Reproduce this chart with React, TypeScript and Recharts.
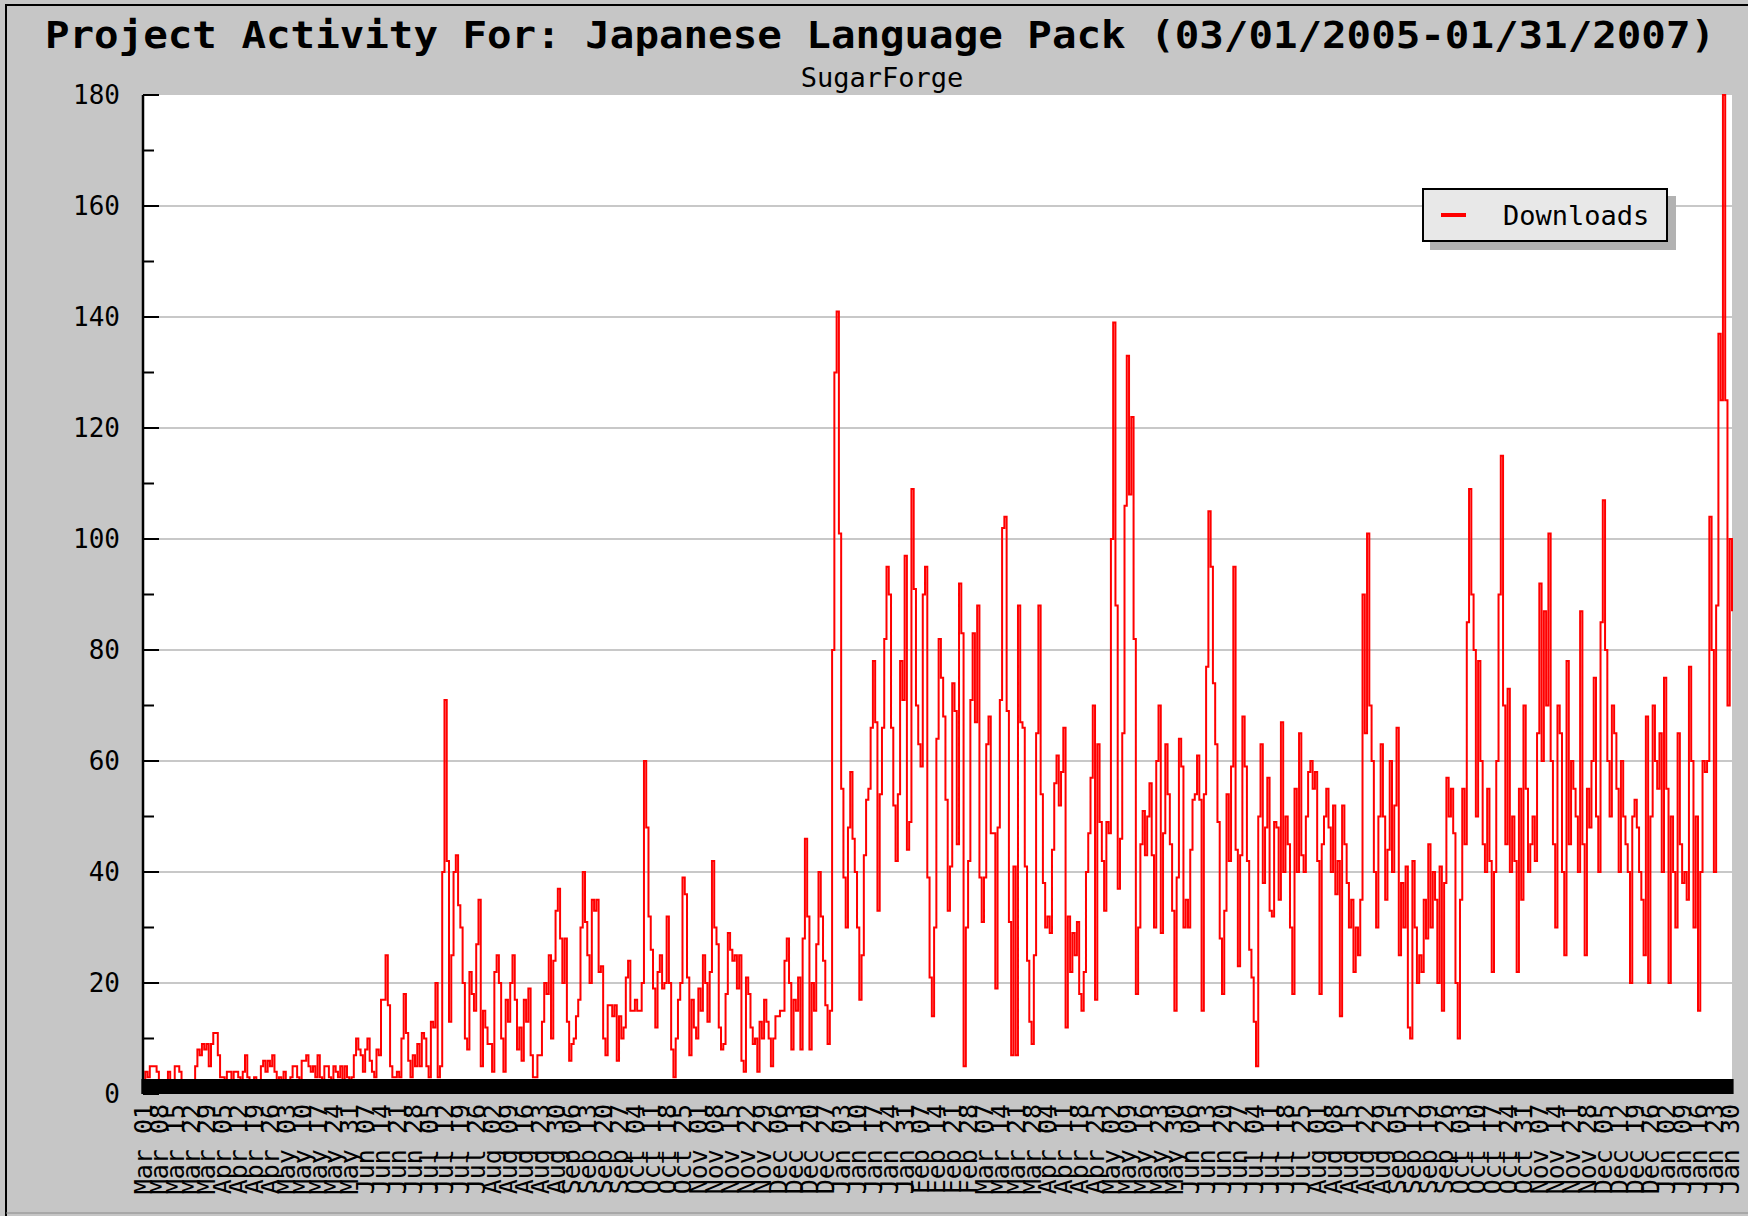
import React from 'react';
import { LineChart, Line, XAxis, YAxis, CartesianGrid, Legend } from 'recharts';

const TITLE = 'Project Activity For: Japanese Language Pack (03/01/2005-01/31/2007)';
const SUBTITLE = 'SugarForge';
const SERIES = 'Downloads';

// daily downloads, one array per month
const mar05 = [2, 4, 3, 5, 5, 5, 4, 2, 2, 1, 2, 4, 2, 1, 5, 5, 4, 2, 1, 1, 2, 1, 2, 5, 8, 7, 9, 8, 9, 5, 9];
const apr05 = [11, 11, 7, 3, 3, 2, 4, 4, 2, 4, 4, 3, 2, 4, 7, 3, 2, 2, 3, 2, 2, 5, 6, 4, 6, 5, 7, 4, 2, 3];
const may05 = [2, 4, 2, 2, 3, 5, 5, 3, 2, 6, 6, 7, 5, 4, 5, 3, 7, 3, 2, 5, 5, 3, 2, 5, 4, 3, 5, 2, 5, 3, 2];
const jun05 = [3, 7, 10, 8, 7, 4, 8, 10, 6, 4, 3, 8, 7, 17, 17, 25, 16, 5, 3, 3, 4, 3, 10, 18, 11, 6, 3, 7, 5, 9];
const jul05 = [5, 11, 10, 5, 3, 13, 12, 20, 3, 5, 40, 71, 42, 13, 25, 40, 43, 34, 30, 20, 10, 8, 22, 18, 15, 27, 35, 5, 15, 12, 9];
const aug05 = [9, 4, 22, 25, 20, 10, 4, 17, 13, 20, 25, 17, 8, 12, 6, 17, 13, 19, 7, 3, 3, 7, 7, 13, 20, 18, 25, 10, 24, 33, 37];
const sep05 = [28, 20, 28, 13, 6, 9, 10, 14, 17, 30, 40, 31, 25, 20, 35, 33, 35, 22, 23, 10, 7, 16, 16, 14, 16, 6, 14, 10, 12, 21];
const oct05 = [24, 15, 15, 17, 15, 15, 20, 60, 48, 32, 26, 19, 12, 22, 25, 19, 20, 32, 20, 8, 3, 10, 17, 20, 39, 36, 21, 7, 17, 12, 10];
const nov05 = [19, 15, 25, 20, 13, 22, 42, 30, 27, 12, 8, 9, 18, 29, 26, 24, 25, 19, 25, 6, 4, 21, 18, 12, 9, 10, 4, 13, 10, 17];
const dec05 = [13, 10, 5, 10, 14, 14, 15, 15, 24, 28, 20, 8, 17, 15, 21, 8, 28, 46, 32, 8, 20, 15, 27, 40, 32, 24, 16, 9, 15, 80, 130];
const jan06 = [141, 101, 55, 39, 30, 48, 58, 46, 40, 30, 17, 25, 43, 53, 55, 66, 78, 67, 33, 54, 66, 82, 95, 90, 66, 52, 42, 54, 78, 71, 97];
const feb06 = [44, 49, 109, 91, 70, 63, 59, 90, 95, 39, 21, 14, 30, 64, 82, 75, 68, 53, 33, 41, 74, 69, 45, 92, 83, 5, 30, 42];
const mar06 = [71, 83, 67, 88, 39, 31, 39, 63, 68, 47, 47, 19, 48, 71, 102, 104, 69, 31, 7, 41, 7, 88, 67, 66, 41, 24, 13, 9, 25, 65, 88];
const apr06 = [54, 38, 30, 32, 29, 44, 56, 61, 52, 58, 66, 12, 32, 22, 29, 25, 31, 18, 15, 22, 40, 47, 57, 70, 17, 63, 49, 42, 33, 49];
const may06 = [47, 100, 139, 88, 37, 46, 65, 106, 133, 108, 122, 82, 18, 30, 45, 51, 43, 50, 56, 43, 30, 60, 70, 29, 47, 63, 54, 45, 33, 15, 39];
const jun06 = [64, 59, 30, 35, 30, 44, 53, 54, 61, 53, 15, 54, 77, 105, 95, 74, 63, 49, 28, 18, 33, 54, 42, 59, 95, 44, 23, 43, 68, 59];
const jul06 = [42, 26, 21, 13, 5, 50, 63, 38, 48, 57, 33, 32, 49, 48, 35, 67, 40, 50, 45, 30, 18, 55, 40, 65, 43, 40, 50, 58, 60, 55, 58];
const aug06 = [42, 18, 45, 50, 55, 48, 40, 52, 36, 42, 14, 52, 45, 38, 30, 35, 22, 30, 25, 35, 90, 65, 101, 70, 60, 40, 30, 50, 63, 50, 35];
const sep06 = [44, 60, 40, 52, 66, 25, 38, 30, 41, 12, 10, 42, 30, 20, 25, 22, 35, 28, 45, 30, 40, 35, 20, 41, 15, 38, 57, 50, 55, 47];
const oct06 = [20, 10, 35, 55, 45, 85, 109, 90, 80, 50, 78, 60, 45, 40, 55, 42, 22, 40, 60, 90, 115, 70, 45, 73, 40, 50, 42, 22, 55, 35, 70];
const nov06 = [55, 40, 45, 50, 42, 65, 92, 60, 87, 70, 101, 60, 45, 30, 70, 65, 40, 25, 78, 45, 60, 55, 50, 40, 87, 45, 25, 55, 48, 60];
const dec06 = [75, 50, 40, 85, 107, 80, 60, 50, 70, 65, 55, 40, 60, 50, 45, 40, 20, 50, 53, 48, 40, 35, 25, 68, 20, 50, 70, 60, 55, 65, 40];
const jan07 = [75, 55, 20, 50, 40, 30, 65, 45, 38, 40, 35, 77, 60, 30, 50, 15, 40, 60, 58, 60, 104, 80, 40, 88, 137, 125, 180, 125, 70, 100, 87];

const months: [string, number[]][] = [
  ['Mar', mar05], ['Apr', apr05], ['May', may05], ['Jun', jun05], ['Jul', jul05], ['Aug', aug05],
  ['Sep', sep05], ['Oct', oct05], ['Nov', nov05], ['Dec', dec05], ['Jan', jan06], ['Feb', feb06],
  ['Mar', mar06], ['Apr', apr06], ['May', may06], ['Jun', jun06], ['Jul', jul06], ['Aug', aug06],
  ['Sep', sep06], ['Oct', oct06], ['Nov', nov06], ['Dec', dec06], ['Jan', jan07],
];

const yTicks = [0, 10, 20, 30, 40, 50, 60, 70, 80, 90, 100, 110, 120, 130, 140, 150, 160, 170, 180];
const gridLevels = [20, 40, 60, 80, 100, 120, 140, 160];

const rows = months.flatMap(([mon, vals]) =>
  vals.map((v, i) => ({ day: `${mon} ${String(i + 1).padStart(2, '0')}`, downloads: v }))
);

const MONO = 'DejaVu Sans Mono';

// every day gets a tick pointing up into the plot; every 7th day gets a label
function DayTick(props: any) {
  const { x, y, index, payload } = props;
  return (
    <g>
      <line x1={x} x2={x} y1={y - 15} y2={y} stroke="#000" strokeWidth={3.2} />
      {index % 7 === 0 && (
        <text
          transform={`translate(${x + 9},${y + 10}) rotate(-90)`}
          textAnchor="end"
          fontFamily={MONO}
          fontSize={25}
          fill="#000"
        >
          {payload.value}
        </text>
      )}
    </g>
  );
}

function LevelTick(props: any) {
  const { x, y, payload } = props;
  const major = payload.value % 20 === 0;
  return (
    <g>
      <line x1={x} x2={x + (major ? 16 : 11)} y1={y} y2={y} stroke="#000" strokeWidth={2} />
      {major && (
        <text x={x - 23} y={y} dy={9} textAnchor="end" fontFamily={MONO} fontSize={26} fill="#000">
          {payload.value}
        </text>
      )}
    </g>
  );
}

function LegendBox({ payload }: any) {
  return (
    <div
      style={{
        width: 246,
        height: 54,
        boxSizing: 'border-box',
        background: '#e8e8e8',
        border: '2px solid #000',
        boxShadow: '8px 8px 0 #b2b2b2',
        display: 'flex',
        alignItems: 'center',
      }}
    >
      {(payload || []).map((p: any) => (
        <React.Fragment key={p.value}>
          <span style={{ width: 25, height: 4, background: p.color, marginLeft: 17 }} />
          <span style={{ marginLeft: 37, fontFamily: MONO, fontSize: 27, color: '#000' }}>{p.value}</span>
        </React.Fragment>
      ))}
    </div>
  );
}

export default function App() {
  return (
    <div
      style={{
        position: 'absolute',
        left: 0,
        top: 0,
        width: 1748,
        height: 1216,
        background: '#c6c6c6',
        overflow: 'hidden',
      }}
    >
      <LineChart width={1748} height={1216} data={rows} margin={{ top: 95, right: 16, bottom: 12, left: 0 }}>
        <CartesianGrid vertical={false} horizontalValues={gridLevels} stroke="#c8c8c8" strokeWidth={2} fill="#fff" />
        <Line
          type="stepAfter"
          dataKey="downloads"
          name={SERIES}
          stroke="#ff0000"
          strokeWidth={2}
          dot={false}
          activeDot={false}
          isAnimationActive={false}
        />
        <XAxis
          dataKey="day"
          interval={0}
          height={110}
          tickSize={0}
          tickMargin={0}
          axisLine={false}
          tickLine={false}
          tick={<DayTick />}
        />
        <YAxis
          domain={[0, 180]}
          ticks={yTicks}
          interval={0}
          width={143}
          tickSize={0}
          tickMargin={0}
          tickLine={false}
          axisLine={{ stroke: '#000', strokeWidth: 2.5 }}
          tick={<LevelTick />}
        />
        <Legend
          layout="vertical"
          align="center"
          verticalAlign="middle"
          content={<LegendBox />}
          wrapperStyle={{ left: 1422, top: 188, width: 254 }}
        />
      </LineChart>
      <svg
        width={1748}
        height={1216}
        style={{ position: 'absolute', left: 0, top: 0, pointerEvents: 'none' }}
      >
        <line x1={6} x2={6} y1={5} y2={1216} stroke="#000" strokeWidth={2} />
        <line x1={5} x2={1748} y1={5} y2={5} stroke="#000" strokeWidth={2} />
        <line x1={6} x2={1748} y1={1213} y2={1213} stroke="#8a8a8a" strokeWidth={1} />
        <text
          x={45}
          y={48}
          fontFamily={MONO}
          fontWeight="bold"
          fontSize={37}
          textLength={1670}
          lengthAdjust="spacingAndGlyphs"
          fill="#000"
        >
          {TITLE}
        </text>
        <text x={882} y={87} textAnchor="middle" fontFamily={MONO} fontSize={27} fill="#000">
          {SUBTITLE}
        </text>
      </svg>
    </div>
  );
}
